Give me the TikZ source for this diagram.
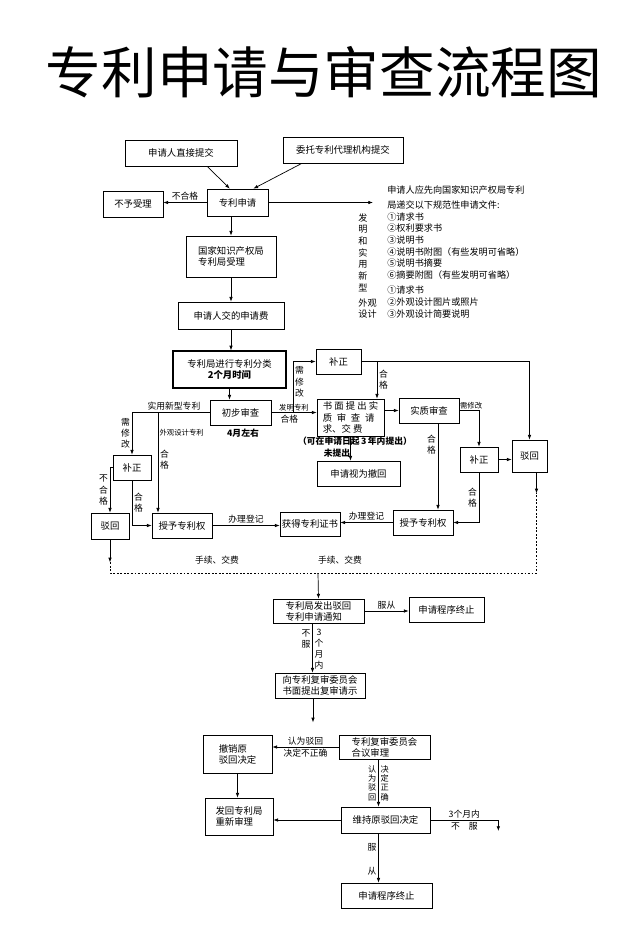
\documentclass[tikz,border=0pt]{standalone}
\usepackage{fontspec}
\setmainfont{Noto Sans CJK SC}
\usetikzlibrary{arrows.meta,calc}
\begin{document}
\begin{tikzpicture}
	[x=0.03cm,y=-0.03cm,line width=.6pt,
	>={Latex[length=4pt,width=3pt]},
	box/.style={draw,inner sep=1pt,font=\fontsize{8}{9.5}\selectfont},
	lbl/.style={font=\fontsize{7.5}{9.5}\selectfont,inner sep=1.5pt},
	small/.style={font=\fontsize{6.3}{7.5}\selectfont,inner sep=1pt},
	bold/.style={font=\fontsize{7.5}{9}\selectfont\bfseries,inner sep=1pt},
	vert/.style={lbl,align=center},
	cvert/.style={align=center,font=\fontsize{7}{8}\selectfont,inner sep=1.5pt},
	dots/.style={dash pattern=on 1.5pt off 1.5pt}]
	\useasboundingbox (0,0) rectangle (640,944);
	\node (title) at (324,72) {\fontsize{47.5}{54}\selectfont 专利申请与审查流程图};
	\node[box,minimum width=3.36cm,minimum height=.78cm] (zhijie) at (181,153) {申请人直接提交};
	\node[box,minimum width=3.6cm,minimum height=.78cm] (daili) at (343,150) {委托专利代理机构提交};
	\node[box,minimum width=1.8cm,minimum height=.78cm] (buyu) at (133,204) {不予受理};
	\node[box,minimum width=1.83cm,minimum height=.81cm] (shenqing) at (237.5,202.5) {专利申请};
	\node[box,align=left,minimum width=2.7cm,minimum height=1.23cm] (guojia) at (231,256.5) {国家知识产权局\\专利局受理};
	\node[box,minimum width=3.18cm,minimum height=.81cm] (jiaofei) at (231,315.5) {申请人交的申请费};
	\node[box,line width=1.1pt,align=center,minimum width=3.39cm,minimum height=1.11cm] (fenlei) at (229.5,369.5) {专利局进行专利分类\\\textbf{2个月时间}};
	\node[box,minimum width=1.83cm,minimum height=.75cm] (chubu) at (240.5,412.5) {初步审查};
	\node[box,minimum width=1.35cm,minimum height=.75cm] (buzhengA) at (338.5,361.5) {补正};
	\node[box,align=left,minimum width=2.01cm,minimum height=1.11cm] (shumian) at (350.5,417.5) {书 面 提 出 实\\质\hspace{4pt}审\hspace{4pt}查\hspace{4pt}请\\求、交 费};
	\node[box,minimum width=2.49cm,minimum height=.75cm] (chehui) at (358.5,473.5) {申请视为撤回};
	\node[box,minimum width=1.8cm,minimum height=.75cm] (shizhi) at (429,410.5) {实质审查};
	\node[box,minimum width=1.14cm,minimum height=.75cm] (buzhengB) at (479,459.5) {补正};
	\node[box,minimum width=1.05cm,minimum height=.96cm] (bohuiB) at (529.5,456) {驳回};
	\node[box,minimum width=1.14cm,minimum height=.75cm] (buzhengC) at (132,467.5) {补正};
	\node[box,minimum width=1.14cm,minimum height=.78cm] (bohuiA) at (110,526) {驳回};
	\node[box,minimum width=1.8cm,minimum height=.75cm] (shouyuA) at (182,525.5) {授予专利权};
	\node[box,minimum width=1.8cm,minimum height=.72cm] (zhengshu) at (310,524) {获得专利证书};
	\node[box,minimum width=1.8cm,minimum height=.75cm] (shouyuB) at (423,522.5) {授予专利权};
	\node[box,align=left,minimum width=2.73cm,minimum height=.72cm] (tongzhi) at (318.5,611) {专利局发出驳回\\专利申请通知};
	\node[box,minimum width=2.25cm,minimum height=.75cm] (zhongzhiA) at (446.5,609.5) {申请程序终止};
	\node[box,align=left,minimum width=2.7cm,minimum height=.75cm] (fushen) at (320,685.5) {向专利复审委员会\\书面提出复审请示};
	\node[box,align=left,minimum width=2.07cm,minimum height=1.14cm] (chexiao) at (237.5,754) {撤销原\\驳回决定};
	\node[box,align=left,minimum width=2.73cm,minimum height=.72cm] (heyi) at (384.5,747) {专利复审委员会\\合议审理};
	\node[box,align=left,minimum width=2.04cm,minimum height=1.11cm] (fahui) at (239,816.5) {发回专利局\\重新审理};
	\node[box,minimum width=2.67cm,minimum height=.78cm] (weichi) at (385.5,820) {维持原驳回决定};
	\node[box,minimum width=2.73cm,minimum height=.75cm] (zhongzhiB) at (386.5,895.5) {申请程序终止};
	\node[align=left,anchor=north west,inner sep=0,font=\fontsize{7.8}{10}\selectfont] (wjtext) at (387,185)
		{申请人应先向国家知识产权局专利\\[3pt]
		局递交以下规范性申请文件:\\
		①请求书\\
		②权利要求书\\
		③说明书\\
		④说明书附图（有些发明可省略）\\
		⑤说明书摘要\\
		⑥摘要附图（有些发明可省略）\\[3pt]
		①请求书\\
		②外观设计图片或照片\\
		③外观设计简要说明};
	\node[align=center,inner sep=0,font=\fontsize{7.8}{10}\selectfont] (fmxx) at (363,252.5) {发\\明\\和\\实\\用\\新\\型};
	\node[align=center,inner sep=0,font=\fontsize{7.8}{10}\selectfont] (wgsj) at (367.5,308.5) {外观\\设计};
	\coordinate (wjend) at (373,202.5);
	\draw[->] (zhijie.333) -- (shenqing.119);
	\draw[->] (daili.198) -- (shenqing.41);
	\draw[->] (shenqing.west) -- (shenqing.west -| buyu.east) node[lbl,midway,above]{不合格};
	\draw[->] (shenqing.east) -- (wjend);
	\draw[->] (guojia.north |- shenqing.south) -- (guojia.north);
	\draw[->] (guojia.south) -- (jiaofei.north);
	\draw[->] (jiaofei.south) -- (jiaofei.south |- fenlei.north);
	\draw[->] (fenlei.south) -- (fenlei.south |- chubu.north);
	\node[bold] (siyue) at (243,433) {4月左右};
	\draw[->] (chubu.east) -- (chubu.east -| shumian.west) node[small,pos=.5,above]{发明专利} node[lbl,pos=.4,below]{合格};
	\coordinate (xg) at (293,412.5);
	\draw[->] (xg) |- (buzhengA.west) node[vert,pos=.3,right]{需\\修\\改};
	\draw[->] (buzhengA.east) -| (bohuiB.north);
	\coordinate (hg) at (377,361.5);
	\draw[->] (hg) -- (hg |- shumian.north) node[vert,midway,right]{合\\格};
	\draw[->] (shizhi.west -| shumian.east) -- (shizhi.west);
	\draw[->] (shumian.south) -- (shumian.south |- chehui.north);
	\node[bold] (sannian) at (355,441) {（可在申请日起\,3\,年内提出）};
	\node[bold] (weitichu) at (337,453) {未提出};
	\draw[->] (shizhi.east) -| (buzhengB.north) node[small,pos=.3,above]{需修改};
	\draw[->] (shizhi.south) ++(9,0) coordinate (sz) -- (sz |- shouyuB.north) node[vert,pos=.25,left]{合\\格};
	\draw[->] (buzhengB.east) -- (buzhengB.east -| bohuiB.west);
	\draw[->] (buzhengB.south) |- (shouyuB.east) node[vert,pos=.25,left]{合\\格};
	\draw[->] (bohuiB.south) ++(7,0) coordinate (bb) -- ++(0,21) coordinate (rd);
	\draw[->] (chubu.west) -| (buzhengC.north) node[lbl,pos=.23,above]{实用新型专利} node[vert,pos=.75,left]{需\\修\\改};
	\coordinate (wg) at (158,412.5);
	\draw[->] (wg) -- (wg |- shouyuA.north) node[small,pos=.2,right]{外观设计专利} node[vert,pos=.47,right]{合\\格};
	\draw[->] (buzhengC.west) -| (bohuiA.north) node[vert,pos=.75,left]{不\\合\\格};
	\draw[->] (buzhengC.south) |- (shouyuA.west) node[vert,pos=.25,right]{合\\格};
	\draw[->] (shouyuA.east) -- (shouyuA.east -| zhengshu.west) node[lbl,midway,above]{办理登记};
	\draw[->] (shouyuB.west) -- (shouyuB.west -| zhengshu.east) node[lbl,midway,above]{办理登记};
	\draw[->] (bohuiA.south) -- ++(0,23) coordinate (ld);
	\coordinate (bot) at (318,573);
	\draw[dots] (ld) |- (bot) -| (rd);
	\node[lbl] (sxA) at (217,560) {手续、交费};
	\node[lbl] (sxB) at (340,560) {手续、交费};
	\draw[->] (bot) -- (tongzhi.north);
	\draw[->] (tongzhi.east) -- (tongzhi.east -| zhongzhiA.west) node[lbl,midway,above]{服从};
	\draw[->] (tongzhi.south) ++(-6,0) coordinate (tz) -- (tz |- fushen.north) node[vert,pos=.32,left]{不\\服} node[vert,pos=.52,right]{3\\个\\月\\内};
	\draw[->] (fushen.south) ++(-7,0) -- ++(0,24);
	\draw[->] (heyi.west) -- (heyi.west -| chexiao.east) node[lbl,midway,above]{认为驳回} node[lbl,midway,below]{决定不正确};
	\draw[->] (chexiao.south) -- (chexiao.south |- fahui.north);
	\draw[->] (heyi.south) ++(-6,0) coordinate (hy) -- (hy |- weichi.north) node[cvert,midway,left]{认\\为\\驳\\回} node[cvert,midway,right]{决\\定\\正\\确};
	\draw[->] (weichi.west) -- (weichi.west -| fahui.east);
	\draw[->] (weichi.east) -- ++(68,0) node[lbl,midway,above]{3个月内} node[lbl,midway,below]{不\quad 服} -- ++(0,11);
	\draw[->] (weichi.south) ++(-7,0) coordinate (wc) -- (wc |- zhongzhiB.north) node[vert,pos=.28,left]{服} node[vert,pos=.76,left]{从};
\end{tikzpicture}
\end{document}
